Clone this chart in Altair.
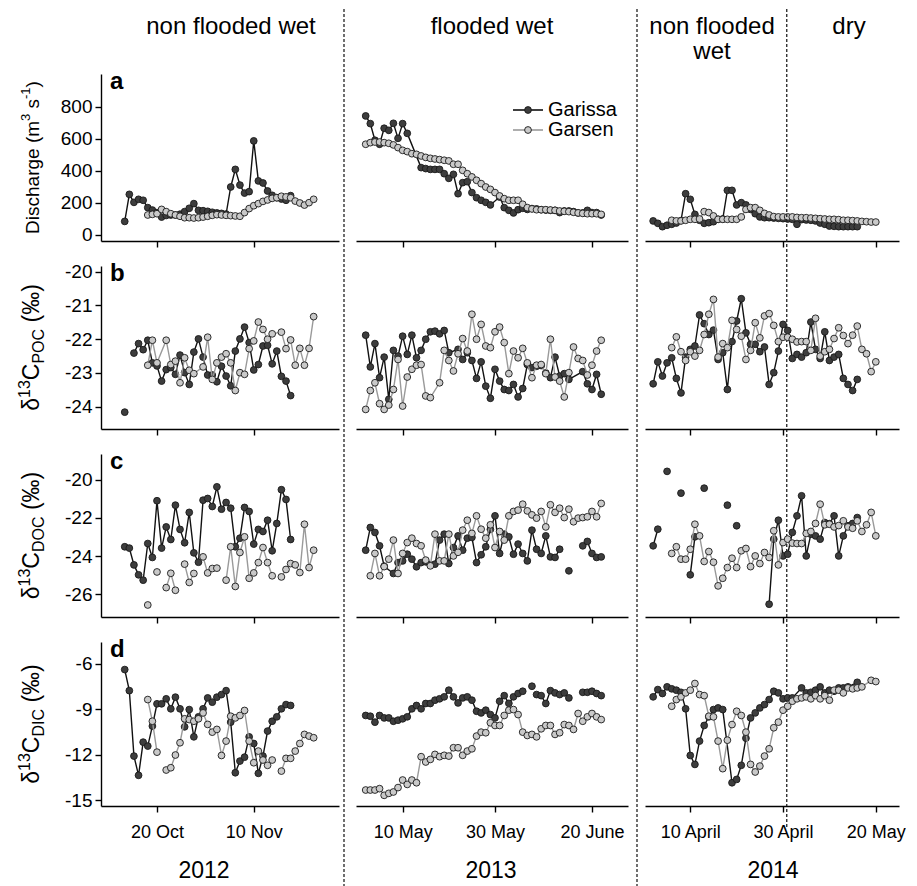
import altair as alt
import pandas as pd

FONT = "Liberation Sans, Arial, Helvetica, sans-serif"

SITES = ["Garissa", "Garsen"]
SITE_FILL = {"Garissa": "#3d3d3d", "Garsen": "#c9c9c9"}
SITE_LINE = {"Garissa": "#111111", "Garsen": "#9a9a9a"}

YEARS = ["2012", "2013", "2014"]
# x = days relative to the first labelled date of each campaign
X_DOMAINS = [[-12.15, 39.5], [-10.1, 48.8], [-9.76, 45.0]]
X_TICKS = [[0, 21], [0, 20, 41], [0, 20, 40]]
X_TICK_LABELS = [["20 Oct", "10 Nov"], ["10 May", "30 May", "20 June"],
                 ["10 April", "30 April", "20 May"]]
DRY_SEASON_START_2014 = 20.8

PANEL_LETTERS = ["a", "b", "c", "d"]
Y_DOMAINS = [[-37.5, 1006], [-24.66, -19.83], [-27.19, -18.65], [-15.375, -4.55]]
Y_TICKS = [[0, 200, 400, 600, 800], [-24, -23, -22, -21, -20],
           [-26, -24, -22, -20], [-15, -12, -9, -6]]

COL_WIDTHS = [238, 272, 254]
ROW_HEIGHTS = [167, 163, 163, 164]

# ---------------- data: (day, value); None = break in the line ----------------
Q_GARISSA_2012 = [(-7, 85), (-6, 254), (-5, 204), (-4, 223), (-3, 217), (-2, 171), (-1, 156), (0, 140),
                  (1, 112), (2, 122), (3, 125), (4, 125), (5, 130), (6, 146), (7, 167), (8, 196), (9, 154),
                  (10, 152), (11, 148), (12, 142), (13, 138), (14, 135), (15, 131), (16, 300), (17, 410),
                  (18, 312), (19, 262), (20, 271), (21, 588), (22, 338), (23, 325), (24, 275), (25, 248),
                  (26, 233), (27, 225), (28, 217), (29, 246)]
Q_GARSEN_2012 = [(-2, 125), (-1, 129), (0, 133), (1, 160), (2, 146), (3, 133), (4, 125), (5, 117), (6, 108),
                 (7, 108), (8, 106), (9, 108), (10, 112), (11, 117), (12, 123), (13, 127), (14, 125), (15, 123),
                 (16, 121), (17, 119), (18, 117), (19, 140), (20, 165), (21, 183), (22, 196), (23, 210),
                 (24, 219), (25, 229), (26, 233), (27, 242), (28, 238), (29, 233), (30, 212), (31, 200),
                 (32, 187), (33, 202), (34, 223)]
Q_GARISSA_2013 = [(-8, 744), (-7, 696), (-6, 592), (-5, 567), (-4, 667), (-3, 654), (-2, 698), (-1, 604),
                  (0, 696), (1, 635), (4, 421), (5, 415), (6, 410), (7, 410), (8, 410), (9, 383), (10, 354),
                  (11, 379), (12, 258), (13, 327), (14, 333), (15, 265), (16, 233), (17, 217), (18, 204),
                  (19, 188), (21, 237), (22, 171), (23, 154), (24, 138), (25, 158), (26, 167), (27, 160),
                  (28, 165), (29, 163), (30, 158), (31, 156), (32, 154), (33, 154), (34, 140), (35, 150),
                  (36, 150), (37, 146), (38, 138), (39, 138), (40, 154), (41, 140), (42, 140), (43, 125)]
Q_GARSEN_2013 = [(-8, 567), (-7, 577), (-6, 581), (-5, 581), (-4, 577), (-3, 573), (-2, 563), (-1, 546),
                 (0, 529), (1, 521), (2, 508), (3, 504), (4, 494), (5, 485), (6, 479), (7, 475), (8, 471),
                 (9, 467), (10, 463), (11, 442), (12, 442), (13, 404), (14, 383), (15, 363), (16, 342),
                 (17, 321), (18, 300), (19, 285), (20, 265), (21, 244), (22, 227), (23, 217), (24, 217),
                 (25, 217), (26, 192), (27, 171), (28, 163), (29, 158), (30, 158), (31, 158), (32, 156),
                 (33, 154), (34, 150), (35, 148), (36, 146), (37, 142), (38, 138), (39, 135), (40, 133),
                 (41, 133), (42, 133), (43, 129)]
Q_GARISSA_2014 = [(-8, 88), (-7, 73), (-6, 52), (-5, 61), (-4, 67), (-3, 75), (-2, 90), (-1, 258), (0, 223),
                  (1, 129), (2, 92), (3, 73), (4, 77), (5, 83), (6, 98), (7, 100), (8, 279), (9, 279),
                  (10, 188), (11, 202), (12, 188), (13, 160), (14, 133), (15, 113), (16, 108), (17, 108),
                  (18, 106), (19, 104), (20, 102), (21, 100), (22, 98), (23, 67), (24, 96), (25, 94),
                  (26, 92), (27, 88), (28, 75), (29, 67), (30, 56), (31, 54), (32, 52), (33, 52), (34, 52),
                  (35, 52), (36, 52)]
Q_GARSEN_2014 = [(-4, 92), (-3, 88), (-2, 88), (-1, 92), (0, 98), (1, 98), (2, 100), (3, 146), (4, 140),
                 (5, 119), (6, 98), (7, 98), (8, 98), (9, 98), (10, 98), (11, 113), (12, 160), (13, 171),
                 (14, 171), (15, 154), (16, 135), (17, 125), (18, 115), (19, 113), (20, 113), (21, 113),
                 (22, 113), (23, 110), (24, 108), (25, 108), (26, 106), (27, 104), (28, 102), (29, 100),
                 (30, 98), (31, 98), (32, 96), (33, 92), (34, 92), (35, 90), (36, 88), (37, 85), (38, 83),
                 (39, 81), (40, 81)]

POC_GARISSA_2012 = [(-7, -24.16), None, (-5, -22.41), (-4, -22.13), (-3, -22.31), (-2, -22.03), (-1, -22.70),
                    (0, -22.79), (1, -23.24), (2, -22.90), (3, -22.84), (4, -23.04), (5, -22.47), (6, -22.99),
                    (7, -23.34), (8, -22.38), (9, -21.99), (10, -22.53), (11, -23.06), (12, -23.06),
                    (13, -23.26), (14, -22.80), (15, -23.09), (16, -23.38), (17, -22.35), (18, -21.99),
                    (19, -21.64), (20, -22.10), (21, -22.91), (22, -22.75), (23, -22.20), (24, -22.18),
                    (25, -22.73), (26, -22.35), (27, -23.10), (28, -23.24), (29, -23.67)]
POC_GARSEN_2012 = [(-2, -22.77), (-1, -22.03), (0, -22.70), (2, -22.03), (3, -22.75), (4, -22.65), (5, -23.29),
                   (6, -22.55), (7, -22.92), (8, -23.02), (10, -22.82), (11, -21.94), (12, -23.19), (13, -22.70),
                   (14, -22.53), (15, -22.43), (16, -22.70), (17, -23.52), (18, -22.99), (19, -23.04),
                   (20, -22.28), (21, -22.05), (22, -21.49), (23, -21.71), (24, -22.00), (25, -21.84),
                   (27, -21.79), (28, -22.28), (29, -22.02), (30, -22.77), (31, -22.27), (32, -22.77),
                   (33, -22.27), (34, -21.33)]
POC_GARISSA_2013 = [(-8, -21.88), (-7, -22.82), (-6, -22.13), (-5, -23.14), (-4, -22.53), (-3, -23.78),
                    (-2, -22.33), (-1, -22.50), (0, -21.91), (1, -22.45), (2, -21.88), (3, -22.55), (4, -22.33),
                    (5, -22.00), (6, -21.78), (7, -21.76), (8, -21.84), (9, -21.74), (10, -22.40), (12, -22.30),
                    (13, -22.60), (14, -22.40), (15, -22.63), (16, -23.16), (17, -22.67), (18, -23.39),
                    (19, -23.75), (20, -22.89), (21, -23.24), (22, -23.49), (23, -23.52), (24, -23.34),
                    (25, -23.71), (26, -23.46), (27, -22.75), (28, -22.84), (29, -22.80), (30, -22.78),
                    (31, -23.00), (32, -23.14), (33, -22.53), (34, -23.09), (35, -23.02), (36, -23.19),
                    (39, -22.96), (40, -23.32), (41, -23.49), (42, -23.04), (43, -23.63)]
POC_GARSEN_2013 = [(-8, -24.08), (-7, -23.52), (-6, -23.29), (-5, -23.91), (-4, -24.08), (-3, -23.95),
                   (-2, -23.49), (-1, -22.60), (0, -23.98), (1, -23.12), (2, -22.89), (3, -22.77), (4, -22.75),
                   (5, -23.68), (6, -23.73), (8, -23.29), (9, -22.33), (10, -22.63), (11, -22.94), (12, -22.43),
                   (13, -21.98), (14, -22.35), (15, -21.26), (16, -22.00), (17, -21.56), (18, -22.20),
                   (19, -22.25), (20, -21.78), (21, -21.64), (22, -22.10), (23, -23.02), (24, -22.35),
                   (25, -22.55), (26, -22.27), (27, -22.70), (28, -23.14), (29, -22.77), (30, -22.75),
                   (31, -23.02), (32, -22.00), (33, -23.12), (34, -23.24), (35, -23.71), (36, -22.99),
                   (37, -22.23), (38, -22.57), (39, -22.63), (40, -23.06), (41, -22.77), (42, -22.35),
                   (43, -22.03)]
POC_GARISSA_2014 = [(-8, -23.32), (-7, -22.67), (-6, -23.09), (-5, -22.70), (-4, -22.55), (-3, -23.16),
                    (-2, -23.59), (-1, -22.53), (0, -22.30), (1, -22.20), (2, -21.28), (3, -21.54), (4, -21.86),
                    (5, -21.73), (6, -22.60), (7, -22.40), (8, -23.49), (9, -22.07), (10, -21.46), (11, -20.80),
                    (12, -21.81), (13, -22.15), (14, -22.15), (15, -22.37), (16, -22.23), (17, -23.34),
                    (18, -22.99), (19, -22.35), (20, -21.56), (21, -21.74), (22, -22.57), (23, -22.45),
                    (24, -22.53), (25, -22.40), (26, -21.49), (27, -22.30), (28, -22.57), (29, -21.78),
                    (30, -22.63), (31, -22.53), (32, -22.45), (33, -23.16), (34, -23.34), (35, -23.52),
                    (36, -23.19)]
POC_GARSEN_2014 = [(-4, -22.25), (-3, -21.93), (-2, -22.37), (-1, -22.63), (0, -22.37), (1, -22.50),
                   (2, -22.33), (3, -21.86), (4, -21.26), (5, -20.82), (6, -22.53), (7, -22.13), (8, -22.25),
                   (9, -21.44), (10, -21.71), (11, -21.91), (12, -22.60), (13, -22.33), (14, -21.51),
                   (15, -21.96), (16, -21.31), (17, -21.24), (18, -21.59), (19, -22.07), (20, -21.94),
                   (21, -21.94), (22, -22.00), (23, -22.08), (24, -22.07), (25, -22.07), (26, -22.33),
                   (27, -21.38), (28, -22.50), (29, -22.37), (30, -22.30), (31, -21.98), (32, -21.66),
                   (33, -21.89), (34, -22.13), (35, -21.88), (36, -21.61), (37, -22.30), (38, -22.43),
                   (39, -22.96), (40, -22.67)]

DOC_GARISSA_2012 = [(-7, -23.51), (-6, -23.58), (-5, -24.46), (-4, -24.98), (-3, -25.26), (-2, -23.34),
                    (-1, -24.07), (0, -21.10), (1, -23.58), (2, -22.47), (3, -23.13), (4, -21.33), (5, -22.60),
                    (6, -23.30), (7, -21.71), (8, -23.83), (9, -24.32), (10, -21.07), (11, -20.98), (12, -21.40),
                    (13, -20.37), (14, -21.54), (15, -21.19), (16, -21.49), (17, -23.51), (18, -23.06),
                    (19, -21.45), (20, -21.66), (21, -23.37), (22, -22.60), (23, -22.71), (24, -22.12),
                    (25, -23.72), (26, -22.29), (27, -20.52), (28, -21.03), (29, -23.13)]
DOC_GARSEN_2012 = [(-2, -26.56), None, (0, -24.83), None, (2, -25.65), (3, -24.90), (4, -25.79), None,
                   (6, -24.42), (7, -25.38), (8, -24.91), None, (10, -24.04), (11, -24.88), (12, -24.65),
                   (13, -24.63), None, (15, -25.26), (16, -23.51), (17, -25.59), (18, -23.81), (19, -22.99),
                   (20, -25.16), (21, -24.88), (22, -24.34), (23, -23.55), (24, -24.34), (25, -25.03), None,
                   (27, -25.09), (28, -24.70), (29, -24.39), (30, -24.46), (31, -24.86), (32, -22.33),
                   (33, -24.60), (34, -23.69)]
DOC_GARISSA_2013 = [(-8, -23.69), (-7, -22.50), (-6, -22.76), (-5, -23.46), (-4, -24.53), (-2, -24.91),
                    (-1, -24.34), (0, -24.25), (1, -23.90), (2, -24.16), (3, -24.56), (4, -24.34), (5, -24.30),
                    (6, -24.46), (7, -24.42), (8, -23.16), (9, -22.85), (10, -24.39), (11, -23.55), (12, -22.94),
                    (13, -23.69), (14, -23.06), (15, -23.02), (16, -24.34), (17, -23.93), (18, -23.51),
                    (19, -22.60), (20, -21.89), (21, -23.86), (22, -22.85), (23, -22.99), (24, -23.90),
                    (25, -23.37), (26, -23.86), (27, -24.25), (28, -22.64), (29, -23.64), (30, -23.86),
                    (31, -22.94), (32, -24.04), (33, -24.07), (34, -23.64), None, (36, -24.77), None,
                    (39, -23.46), (40, -23.23), (41, -23.86), (42, -24.07), (43, -24.04)]
DOC_GARSEN_2013 = [(-7, -25.03), (-6, -23.86), (-5, -25.03), (-4, -24.55), (-3, -24.16), (-2, -23.16),
                   (-1, -24.91), (0, -23.86), (1, -23.29), (2, -23.06), (3, -23.34), (4, -23.46), (5, -24.21),
                   (6, -24.51), (7, -22.85), (8, -24.25), (9, -24.25), (10, -22.85), (11, -23.99), (12, -23.80),
                   (13, -22.64), (14, -22.12), (15, -22.81), (16, -21.89), (17, -22.59), (18, -23.06),
                   (19, -22.36), (20, -23.55), (21, -22.71), (22, -23.16), (23, -21.89), (24, -21.66),
                   (25, -21.59), (26, -21.28), (27, -21.63), (28, -21.84), (29, -22.01), (30, -21.66),
                   (31, -22.47), (32, -21.31), (33, -21.71), (34, -21.49), (35, -21.98), (36, -21.54),
                   (37, -22.20), (38, -22.01), (39, -21.98), (40, -21.94), (41, -21.66), (42, -21.94),
                   (43, -21.24)]
DOC_GARISSA_2014 = [(-8, -23.46), (-7, -22.59), None, (-5, -19.56), None, (-2, -20.70), None, (0, -24.98),
                    (1, -22.99), None, (3, -20.44), None, (8, -21.33), None, (10, -22.41), None, (17, -26.52),
                    (18, -23.11), (19, -22.12), (20, -23.99), (21, -23.90), (22, -22.76), (23, -21.89),
                    (24, -20.84), (25, -23.99), (26, -22.85), (27, -22.94), (28, -23.11), (29, -22.24),
                    (30, -22.30), (31, -21.89), (32, -23.99), (33, -22.94), (34, -22.41), (35, -22.29),
                    (36, -21.98)]
DOC_GARSEN_2014 = [(-4, -23.86), (-3, -23.51), (-2, -24.16), (-1, -24.16), (0, -23.64), (1, -22.33),
                   (2, -22.94), (3, -24.28), (4, -23.76), (5, -24.32), (6, -25.56), (7, -25.16), (8, -24.60),
                   (9, -24.11), (10, -24.60), (11, -23.72), (12, -23.60), (13, -24.55), (14, -23.99),
                   (15, -24.39), (16, -23.81), (17, -24.07), (18, -22.67), (19, -24.46), (20, -23.29),
                   (21, -23.11), (22, -23.32), (23, -23.34), (24, -23.34), (25, -22.81), (26, -22.71),
                   (27, -22.29), (28, -21.28), (29, -22.36), (30, -22.33), (31, -22.47), (32, -22.40),
                   (33, -22.15), (34, -22.47), (35, -22.54), (36, -22.15), (37, -22.71), (38, -22.36),
                   (39, -21.71), (40, -22.94)]

DIC_GARISSA_2012 = [(-7, -6.37), (-6, -7.76), (-5, -12.08), (-4, -13.35), (-3, -11.16), (-2, -11.42),
                    (-1, -10.10), (0, -8.63), (1, -8.63), (2, -8.30), (3, -8.96), (4, -8.19), (5, -8.96),
                    (6, -10.15), (7, -9.01), (8, -10.81), (9, -9.49), (10, -8.96), (11, -8.24), (12, -8.52),
                    (13, -8.19), (14, -8.02), (15, -7.76), (16, -9.84), (17, -13.18), (18, -12.41), (19, -12.15),
                    (20, -10.81), (21, -11.25), (22, -13.22), (23, -12.08), (24, -10.43), (25, -9.78),
                    (26, -9.49), (27, -8.96), (28, -8.68), (29, -8.74)]
DIC_GARSEN_2012 = [(-2, -8.35), (-1, -9.78), (0, -11.82), None, (2, -13.00), (3, -12.85), (4, -12.01),
                   (5, -11.20), (6, -9.62), (7, -9.67), (8, -9.78), (9, -9.62), (10, -9.23), (11, -9.99),
                   (12, -10.50), (13, -10.32), (14, -12.04), (15, -11.09), (16, -9.45), (17, -9.56), (18, -9.40),
                   (19, -9.07), (20, -11.09), (21, -12.52), (22, -11.75), (23, -12.34), (24, -12.69),
                   (25, -12.34), None, (27, -13.07), (28, -12.23), (29, -12.23), (30, -11.75), (31, -11.25),
                   (32, -10.65), (33, -10.76), (34, -10.87)]
DIC_GARISSA_2013 = [(-8, -9.40), (-7, -9.45), (-6, -9.84), (-5, -9.40), (-4, -9.56), (-3, -9.56), (-2, -9.78),
                    (-1, -9.71), (0, -9.62), (1, -9.49), (2, -8.96), (3, -8.74), (4, -8.96), (5, -8.61),
                    (6, -8.61), (7, -8.39), (8, -8.30), (9, -8.17), (10, -7.73), (11, -8.17), (12, -8.57),
                    (13, -8.24), (14, -8.17), (15, -8.39), (16, -9.12), (17, -9.23), (18, -9.05), (19, -9.34),
                    (20, -9.56), (21, -8.46), (22, -8.09), (23, -8.60), (24, -8.17), (25, -7.95), (26, -7.80),
                    None, (28, -7.47), None, (29, -8.02), (30, -8.09), (31, -8.61), (32, -7.76), (33, -7.91),
                    (34, -8.02), (35, -7.91), (36, -8.24), None, (39, -7.87), (40, -7.87), (41, -7.80),
                    (42, -7.95), (43, -8.09)]
DIC_GARSEN_2013 = [(-8, -14.32), (-7, -14.32), (-6, -14.32), (-5, -14.23), (-4, -14.67), (-3, -14.54),
                   (-2, -14.45), (-1, -14.16), (0, -13.66), (1, -13.95), (2, -13.66), (3, -13.84), (4, -12.12),
                   (5, -12.47), (6, -12.30), (7, -11.97), (8, -12.12), (9, -12.03), (10, -12.08), (11, -11.53),
                   (12, -11.53), (13, -12.03), (14, -11.75), (15, -11.60), (16, -10.76), (17, -10.50),
                   (18, -10.54), (19, -9.88), (20, -10.06), (21, -10.06), (22, -9.40), (23, -9.05), (24, -9.01),
                   (25, -9.34), (26, -10.50), (27, -10.72), (28, -10.65), (29, -10.81), (30, -10.28),
                   (31, -10.06), (32, -10.06), (33, -10.65), (34, -10.54), (35, -10.00), (36, -10.06),
                   (37, -10.32), (38, -9.27), (39, -9.78), (40, -9.49), (41, -9.27), (42, -9.49), (43, -9.67)]
DIC_GARISSA_2014 = [(-8, -8.17), (-7, -7.69), (-6, -7.95), (-5, -7.51), (-4, -7.64), (-3, -7.73), (-2, -7.87),
                    (-1, -8.96), (0, -12.04), (1, -12.63), (2, -11.09), (3, -10.06), (4, -9.49), (5, -9.01),
                    (6, -8.90), (7, -9.01), (9, -13.84), (10, -13.62), (11, -12.69), (12, -10.90), (13, -9.56),
                    (14, -9.23), (15, -8.90), (16, -8.68), (17, -8.35), (18, -7.80), (19, -7.91), (20, -8.30),
                    (21, -8.24), (22, -8.24), (24, -7.58), (25, -7.91), (26, -7.87), (27, -7.73), (28, -7.51),
                    (29, -7.91), (30, -7.73), (31, -7.80), (32, -7.58), (33, -7.58), (34, -7.51), (36, -7.21)]
DIC_GARSEN_2014 = [(-4, -8.79), (-3, -8.35), (-2, -8.17), (-1, -7.91), (0, -7.73), (1, -7.29), (2, -8.02),
                   (3, -8.09), (4, -9.45), (5, -9.49), (6, -11.09), (7, -12.91), (8, -11.03), (9, -10.00),
                   (10, -9.12), (11, -9.40), (12, -10.50), (13, -12.63), (14, -13.13), (15, -12.74),
                   (16, -12.08), (17, -11.60), (18, -10.21), (19, -9.84), (20, -9.05), (21, -8.79), (22, -8.46),
                   (23, -8.30), (24, -8.24), (25, -8.17), (26, -8.30), (27, -8.09), (28, -8.30), (29, -8.09),
                   (30, -8.39), (31, -7.73), (32, -7.73), (33, -7.91), (34, -7.58), (35, -7.64), (36, -7.58),
                   (37, -7.51), (39, -7.08), (40, -7.16)]

PANEL_DATA = [
    [(Q_GARISSA_2012, Q_GARSEN_2012), (Q_GARISSA_2013, Q_GARSEN_2013), (Q_GARISSA_2014, Q_GARSEN_2014)],
    [(POC_GARISSA_2012, POC_GARSEN_2012), (POC_GARISSA_2013, POC_GARSEN_2013), (POC_GARISSA_2014, POC_GARSEN_2014)],
    [(DOC_GARISSA_2012, DOC_GARSEN_2012), (DOC_GARISSA_2013, DOC_GARSEN_2013), (DOC_GARISSA_2014, DOC_GARSEN_2014)],
    [(DIC_GARISSA_2012, DIC_GARSEN_2012), (DIC_GARISSA_2013, DIC_GARSEN_2013), (DIC_GARISSA_2014, DIC_GARSEN_2014)],
]

# y-axis titles: (text, size-key, shift) pieces, read bottom to top
Y_TITLE_PIECES = [
    [("Discharge (m", "M", 0), ("3", "S", "sup"), (" s", "M", 0), ("-1", "S", "sup"), (")", "M", 0)],
    [("δ", "M", 0), ("13", "S", "sup"), ("C", "M", 0), ("POC", "S", "sub"), (" (‰)", "M", 0)],
    [("δ", "M", 0), ("13", "S", "sup"), ("C", "M", 0), ("DOC", "S", "sub"), (" (‰)", "M", 0)],
    [("δ", "M", 0), ("13", "S", "sup"), ("C", "M", 0), ("DIC", "S", "sub"), (" (‰)", "M", 0)],
]
Y_TITLE_SIZES = [{"M": 19, "S": 13}, {"M": 23, "S": 16}, {"M": 23, "S": 16}, {"M": 23, "S": 16}]

SEASON_TITLES = [[("non flooded wet", 130, -40)], [("flooded wet", 136, -40)],
                 [("non flooded", 67, -40), ("wet", 67, -15), ("dry", 204, -40)]]
YEAR_LABEL_X = [103, 135, 128]

# Arial / Liberation Sans advance widths (em)
CHAR_W = {"D": .722, "i": .222, "s": .5, "c": .5, "h": .556, "a": .556, "r": .333, "g": .556, "e": .556,
          " ": .278, "(": .333, ")": .333, "m": .833, "-": .333, "δ": .556, "C": .722, "P": .667,
          "O": .778, "I": .278, "‰": 1.0}


def text_w(s, size):
    return sum(CHAR_W.get(ch, 0.556) for ch in s) * size


ONE = pd.DataFrame({"k": [0]})


def series_frame(pairs, site):
    rows, seg = [], 0
    for p in pairs:
        if p is None:
            seg += 1
            continue
        rows.append({"day": p[0], "value": p[1], "site": site, "seg": f"{site}{seg}"})
    return pd.DataFrame(rows)


def label_expr(c):
    expr = "''"
    for v, lab in reversed(list(zip(X_TICKS[c], X_TICK_LABELS[c]))):
        expr = f"datum.value == {v} ? '{lab}' : ({expr})"
    return expr


def txt(text, x, y, size, **kw):
    return alt.Chart(ONE).mark_text(text=text, font=FONT, fontSize=size, color="black", **kw).encode(
        x=alt.value(x), y=alt.value(y))


def panel(r, c):
    ga, gs = PANEL_DATA[r][c]
    df = pd.concat([series_frame(ga, "Garissa"), series_frame(gs, "Garsen")], ignore_index=True)
    x_axis = alt.Axis(values=X_TICKS[c], labels=(r == 3), labelExpr=label_expr(c), title=None)
    X = alt.X("day:Q", scale=alt.Scale(domain=X_DOMAINS[c], nice=False, zero=False), axis=x_axis)
    if c == 0:
        Y = alt.Y("value:Q", scale=alt.Scale(domain=Y_DOMAINS[r], nice=False, zero=False),
                  axis=alt.Axis(values=Y_TICKS[r], labelExpr="datum.value + ''", title=None))
    else:
        Y = alt.Y("value:Q", scale=alt.Scale(domain=Y_DOMAINS[r], nice=False, zero=False), axis=None)

    layers = []
    for site in SITES:
        sub = alt.Chart(df).transform_filter(alt.datum.site == site)
        layers.append(sub.mark_line(color=SITE_LINE[site], strokeWidth=1.4).encode(x=X, y=Y, detail="seg:N"))
        layers.append(sub.mark_circle(size=46, fill=SITE_FILL[site], stroke="#1a1a1a", strokeWidth=0.9,
                                      opacity=1).encode(x=X, y=Y))

    if c == 0:
        layers.append(txt(PANEL_LETTERS[r], 9, 15, 24, fontWeight="bold", align="left", baseline="alphabetic"))
        sizes = Y_TITLE_SIZES[r]
        pieces = Y_TITLE_PIECES[r]
        total = sum(text_w(t, sizes[k]) for t, k, _ in pieces)
        ystart = ROW_HEIGHTS[r] / 2 + total / 2
        base_x = -62
        cum = 0.0
        for t, k, sh in pieces:
            shift = {"sup": -9, "sub": 5}.get(sh, 0) if sh else 0
            lead = len(t) - len(t.lstrip(" "))
            lead_w = text_w(" " * lead, sizes[k])
            layers.append(txt(t.lstrip(" "), base_x + shift, ystart - cum - lead_w, sizes[k], angle=270,
                              align="left", baseline="alphabetic"))
            cum += text_w(t, sizes[k])
    if r == 0:
        for t, x, y in SEASON_TITLES[c]:
            layers.append(txt(t, x, y, 24, align="center", baseline="alphabetic"))
        if c == 0:
            layers.append(alt.Chart(ONE).mark_rule(color="white", strokeWidth=1).encode(
                x=alt.value(-92), y=alt.value(0), y2=alt.value(1)))
        if c in (1, 2):
            sep_x = -12 if c == 1 else -8
            layers.append(alt.Chart(ONE).mark_rule(color="#222222", strokeWidth=1.3, strokeDash=[3, 2]).encode(
                x=alt.value(sep_x), y=alt.value(-65), y2=alt.value(813)))
        if c == 2:
            layers.append(alt.Chart(ONE).mark_rule(color="#222222", strokeWidth=1.3, strokeDash=[3, 2]).encode(
                x=alt.datum(DRY_SEASON_START_2014), y=alt.value(-65), y2=alt.value(753)))
        if c == 1:
            for i, site in enumerate(SITES):
                yy = 36 + 20 * i
                layers.append(alt.Chart(ONE).mark_rule(color=SITE_LINE[site], strokeWidth=1.6).encode(
                    x=alt.value(157), x2=alt.value(187), y=alt.value(yy)))
                layers.append(alt.Chart(ONE).mark_circle(size=46, fill=SITE_FILL[site], stroke="#1a1a1a",
                                                         strokeWidth=0.9, opacity=1).encode(
                    x=alt.value(172), y=alt.value(yy)))
                layers.append(txt(site, 192, yy, 20, align="left", baseline="middle"))
    if r == 3:
        layers.append(txt(YEARS[c], YEAR_LABEL_X[c], 236, 23, align="center", baseline="alphabetic"))

    return alt.layer(*layers).properties(width=COL_WIDTHS[c], height=ROW_HEIGHTS[r])


charts = [panel(r, c) for r in range(4) for c in range(3)]

chart = alt.concat(*charts, columns=3, spacing={"row": 25, "column": 17}, bounds="flush",
                   align="each").properties(padding=0)
chart = (chart.configure_view(stroke=None)
         .configure_axis(domainColor="black", domainWidth=1.4, tickColor="black", tickWidth=1.4, tickSize=6,
                         labelFont=FONT, labelColor="black", grid=False)
         .configure_axisX(labelFontSize=18, labelPadding=11)
         .configure_axisY(labelFontSize=19, labelPadding=3))

chart.save("out.html", embed_options={"renderer": "svg", "actions": False})
